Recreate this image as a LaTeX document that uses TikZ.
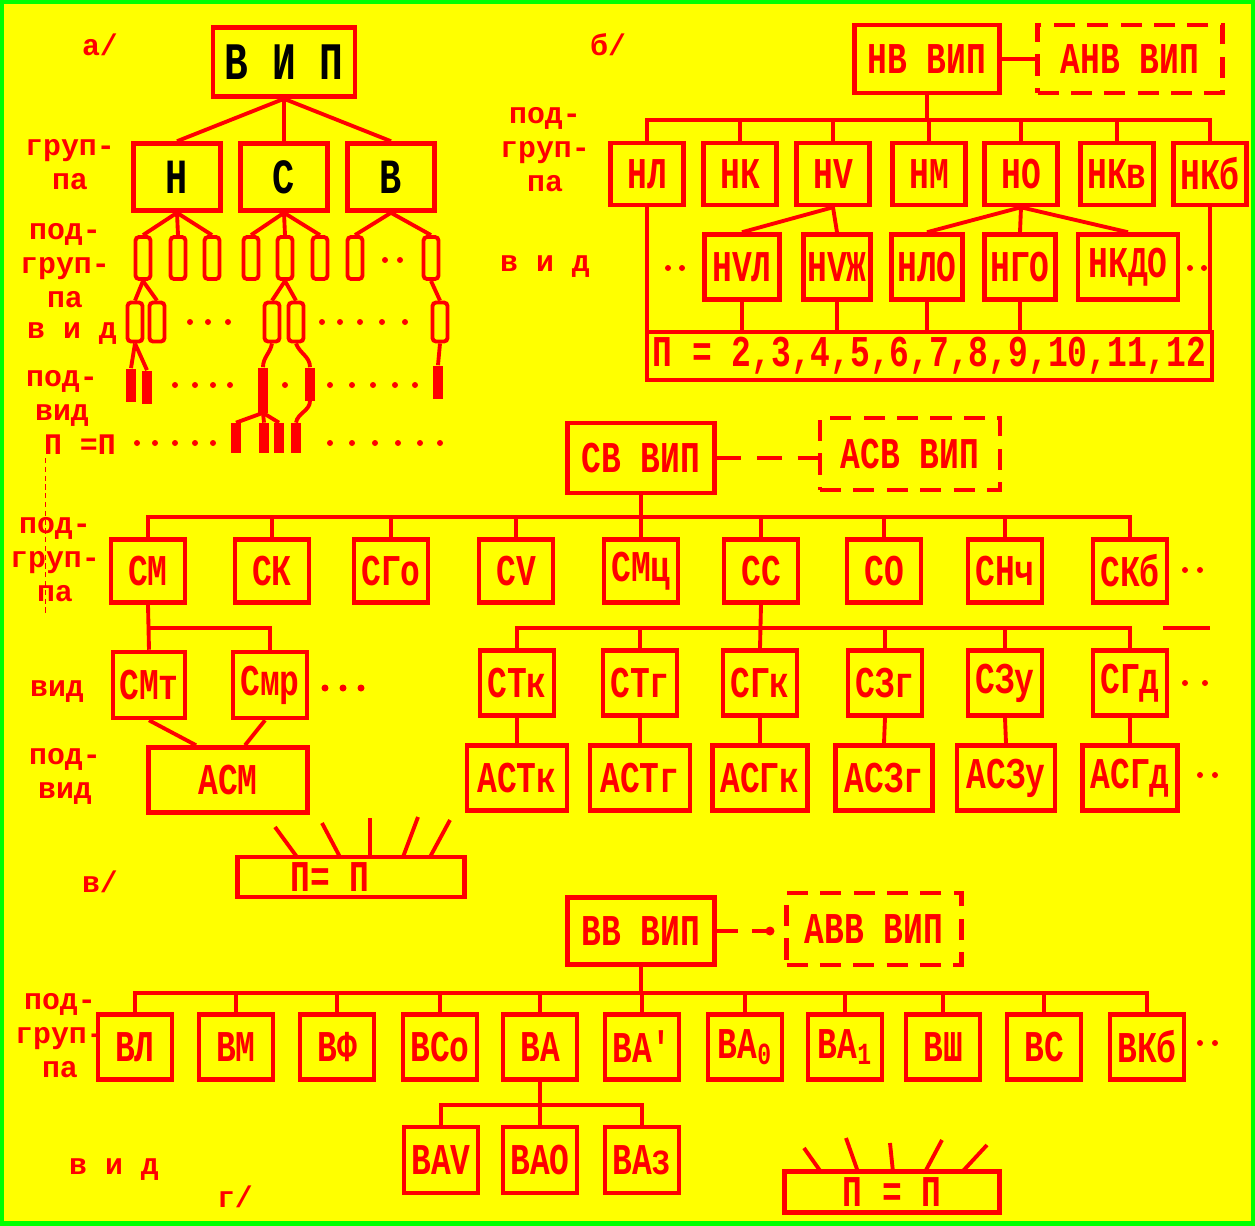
\documentclass[tikz,border=0pt]{standalone}
\usepackage{fontspec}
\setmainfont{Liberation Mono}
\newfontfamily\boxfam{Liberation Mono}[FakeStretch=0.75]
\usepackage{tikz}
\usetikzlibrary{positioning}
\definecolor{vred}{RGB}{255,0,0}
\definecolor{vyellow}{RGB}{255,255,0}
\definecolor{vgreen}{RGB}{0,255,0}
\newcommand{\boxfont}{\boxfam\fontsize{25}{26}\selectfont\bfseries}
\newcommand{\lblfont}{\fontsize{17}{19.3}\selectfont\bfseries}
\tikzset{
  box/.style={draw=vred, line width=2.6pt, text=vred, font=\boxfont, inner sep=0pt,
              minimum width=1.48cm, minimum height=1.3cm},
  dbox/.style={box, dash pattern=on 12pt off 7pt},
  cell/.style={draw=vred, line width=2.2pt, rounded corners=2pt, inner sep=0pt,
               minimum width=0.3cm, minimum height=0.84cm},
  rod/.style={fill=vred, inner sep=0pt, minimum width=0.2cm, minimum height=0.66cm},
  lbl/.style={text=vred, font=\lblfont, align=center, inner sep=0pt},
  ln/.style={draw=vred, line width=2.2pt},
}

\begin{document}
\begin{tikzpicture}[x=0.02cm, y=-0.02cm]
  \useasboundingbox (0,0) rectangle (1255,1225);
  \fill[vyellow] (0,0) rectangle (1255,1225);
  \draw[vgreen, line width=5pt] (0,0) rectangle (1255,1225);

  % a/ general scheme
  \node[lbl] (la) at (100,45) {а/};
  \node[box, text=black, minimum width=2.84cm, minimum height=1.38cm,
        font=\boxfam\fontsize{30}{30}\selectfont\bfseries] (vip) at (284,62) {В И П};
  \foreach \n/\x/\t in {gn/177/Н, gs/284/С, gv/391/В}
    \node[box, text=black, minimum width=1.74cm, minimum height=1.34cm,
          font=\boxfam\fontsize{28}{28}\selectfont\bfseries] (\n) at (\x,177) {\t};
  \foreach \n in {gn,gs,gv} \draw[ln] (vip.south) -- (\n.north);
  \foreach \n/\x in {c1/143,c2/178,c3/212,c4/251,c5/285,c6/320,c7/355,c8/431}
    \node[cell] (\n) at (\x,258) {};
  \foreach \g/\c in {gn/c1,gn/c2,gn/c3,gs/c4,gs/c5,gs/c6,gv/c7,gv/c8}
    \draw[ln] (\g.south) -- (\c.north);
  \foreach \n/\x in {v1/135,v2/157,v3/272,v4/296,v5/440}
    \node[cell, minimum height=0.78cm] (\n) at (\x,322) {};
  \foreach \c/\v in {c1/v1,c1/v2,c5/v3,c5/v4,c8/v5}
    \draw[ln] (\c.south) -- (\v.north);
  \foreach \n/\x/\y in {r1/131/385,r2/147/387,r4/310/384,r5/438/382}
    \node[rod] (\n) at (\x,\y) {};
  \node[rod, minimum height=0.9cm] (r3) at (263,390) {};
  \draw[ln] (v1.south) -- (r1.north);
  \draw[ln] (v1.south) -- (r2.north);
  \draw[ln] (v5.south) -- (r5.north);
  \draw[ln] (v3.south) to[out=-100,in=90] (r3.north);
  \draw[ln] (v4.south) to[out=-70,in=90] (r4.north);
  \foreach \n/\x in {p1/236,p2/264,p3/279,p4/296}
    \node[rod, minimum height=0.6cm] (\n) at (\x,438) {};
  \foreach \p in {p1,p2,p3} \draw[ln] (r3.south) -- (\p.north);
  \draw[ln] (r4.south) to[out=-90,in=80] (p4.north);
  \foreach \x in {385,400} \fill[vred] (\x,260) circle (0.06cm);
  \foreach \x in {190,208,228,322,340,360,382,405} \fill[vred] (\x,322) circle (0.06cm);
  \foreach \x in {175,195,213,230,285,330,352,373,395,415} \fill[vred] (\x,385) circle (0.06cm);
  \foreach \x in {137,155,175,195,213,330,352,375,398,420,440} \fill[vred] (\x,443) circle (0.06cm);
  \draw[vred, densely dashed, line width=0.5pt] (45,458) -- (45,613);
  \node[lbl] (ag) at (70,165) {груп-\\па};
  \node[lbl] (asg) at (65,266) {под-\\груп-\\па};
  \node[lbl] (av) at (72,334) {в и д};
  \node[lbl] (apv) at (62,398) {под-\\вид};
  \node[lbl] (ann) at (80,445) {П =П};

  % б/ low frequency
  \node[lbl] (lb) at (608,45) {б/};
  \node[box, minimum width=2.9cm, minimum height=1.36cm] (nv) at (927,59) {НВ ВИП};
  \node[dbox, minimum width=3.7cm, minimum height=1.36cm] (anv) at (1130,59) {АНВ ВИП};
  \draw[ln] (nv) -- (anv);
  \foreach \n/\x/\t in {nl/647/НЛ, nk/740/НК, nu/833/НV, nm/929/НМ, no/1021/НО, nkv/1117/НКв, nkb/1210/НКб}
    \node[box, minimum width=1.46cm, minimum height=1.24cm] (\n) at (\x,174) {\t};
  \coordinate (nbus) at (927,120);
  \draw[ln] (nv.south) -- (nbus);
  \draw[ln] (nl.north) |- (nbus) -| (nkb.north);
  \foreach \n in {nk,nu,nm,no,nkv} \draw[ln] (\n.north) -- (\n.north |- nbus);
  \foreach \n/\x/\w/\t in {nul/742/1.5/НVЛ, nuzh/837/1.34/НVЖ, nlo/927/1.42/НЛО, ngo/1020/1.42/НГО, nkdo/1128/2.0/НКДО}
    \node[box, minimum width=\w cm, minimum height=1.3cm] (\n) at (\x,267) {\t};
  \foreach \n in {nul,nuzh} \draw[ln] (nu.south) -- (\n.north);
  \foreach \n in {nlo,ngo,nkdo} \draw[ln] (no.south) -- (\n.north);
  \node[box, minimum width=11.3cm, minimum height=0.96cm] (nn) at (929.5,356) {П = 2,3,4,5,6,7,8,9,10,11,12};
  \foreach \n in {nl,nkb,nul,nuzh,nlo,ngo} \draw[ln] (\n.south) -- (\n.south |- nn.north);
  \foreach \x in {668,682,1190,1204} \fill[vred] (\x,268) circle (0.06cm);
  \node[lbl] (bsg) at (545,150) {под-\\груп-\\па};
  \node[lbl] (bv) at (545,267) {в и д};

  % в/ middle frequency
  \node[box, minimum width=2.94cm, minimum height=1.4cm] (sv) at (641,458) {СВ ВИП};
  \node[dbox, minimum width=3.6cm, minimum height=1.44cm] (asv) at (910,454) {АСВ ВИП};
  \draw[ln, dash pattern=on 14pt off 9pt] (sv.east) -- (sv.east -| asv.west);
  \foreach \n/\x/\t in {sm/148/СМ, sk/272/СК, sgo/391/СГо, su/516/СV, smc/641/СМц, ss/761/СС, so/884/СО, snch/1005/СНч, skb/1130/СКб}
    \node[box, minimum height=1.26cm] (\n) at (\x,571) {\t};
  \coordinate (sbus) at (641,517);
  \draw[ln] (sv.south) -- (sbus);
  \draw[ln] (sm.north) |- (sbus) -| (skb.north);
  \foreach \n in {sk,sgo,su,smc,ss,so,snch} \draw[ln] (\n.north) -- (\n.north |- sbus);
  \foreach \x in {1185,1200} \fill[vred] (\x,570) circle (0.06cm);
  \node[box, minimum width=1.44cm, minimum height=1.32cm] (smt) at (149,685) {СМт};
  \node[box, minimum height=1.32cm] (smr) at (270,685) {Смр};
  \coordinate (smbus) at (149,628);
  \draw[ln] (sm.south) -- (smt.north);
  \draw[ln] (smbus) -| (smr.north);
  \foreach \x in {325,343,361} \fill[vred] (\x,688) circle (0.07cm);
  \node[box, minimum width=3.18cm, minimum height=1.3cm] (asm) at (228,780) {АСМ};
  \draw[ln] (smt.south) -- ([xshift=-0.64cm]asm.north);
  \draw[ln] ([xshift=-0.1cm]smr.south) -- ([xshift=0.34cm]asm.north);
  \foreach \n/\x/\t in {stk/517/СТк, stg/640/СТг, sgk/760/СГк, szg/885/СЗг, szu/1005/СЗу, sgd/1130/СГд}
    \node[box] (\n) at (\x,683) {\t};
  \coordinate (ssbus) at (761,628);
  \draw[ln] (ss.south) -- (sgk.north);
  \draw[ln] (stk.north) |- (ssbus) -| (sgd.north);
  \foreach \n in {stg,szg,szu} \draw[ln] (\n.north) -- (\n.north |- ssbus);
  \coordinate (ssdash) at (1163,628);
  \coordinate (ssend) at (1210,628);
  \draw[ln] (ssdash) -- (ssend);
  \foreach \x in {1185,1205} \fill[vred] (\x,683) circle (0.06cm);
  \foreach \n/\x/\w/\t in {astk/517/2.0/АСТк, astg/640/2.0/АСТг, asgk/760/1.9/АСГк, aszg/884/1.94/АСЗг, aszu/1006/1.96/АСЗу, asgd/1130/1.9/АСГд}
    \node[box, minimum width=\w cm] (\n) at (\x,778) {\t};
  \foreach \a/\b in {stk/astk,stg/astg,sgk/asgk,szg/aszg,szu/aszu,sgd/asgd}
    \draw[ln] (\a.south) -- (\b.north);
  \foreach \x in {1200,1215} \fill[vred] (\x,775) circle (0.06cm);
  \node[box, minimum width=4.54cm, minimum height=0.8cm] (pp1) at (351,877) {П= П\hspace*{0.84cm}};
  \foreach \xa/\ya/\xb in {275/827/297, 322/823/340, 370/818/370, 418/817/403, 450/820/430}
    \draw[ln] (\xa,\ya) -- (\xb,857);
  \node[lbl] (lc) at (100,882) {в/};
  \node[lbl] (csg) at (55,560) {под-\\груп-\\па};
  \node[lbl] (cv) at (57,692) {вид};
  \node[lbl] (cpv) at (65,776) {под-\\вид};

  % г/ high frequency
  \node[box, minimum width=2.94cm, minimum height=1.34cm] (vv) at (641,931) {ВВ ВИП};
  \node[dbox, minimum width=3.5cm, minimum height=1.44cm] (avv) at (874,929) {АВВ ВИП};
  \draw[ln, dash pattern=on 12pt off 8pt] (vv.east) -- (vv.east -| avv.west);
  \fill[vred] (770,931) circle (0.09cm);
  \foreach \n/\x/\t in {vl/135/ВЛ, vm/236/ВМ, vf/337/ВФ, vso/440/ВСо, va/540/ВА, vap/642/ВА', vazero/745/ВА\textsubscript{0}, vaone/845/ВА\textsubscript{1}, vsh/943/ВШ, vs/1044/ВС, vkb/1147/ВКб}
    \node[box] (\n) at (\x,1047) {\t};
  \coordinate (vbus) at (641,993);
  \draw[ln] (vv.south) -- (vbus);
  \draw[ln] (vl.north) |- (vbus) -| (vkb.north);
  \foreach \n in {vm,vf,vso,va,vap,vazero,vaone,vsh,vs} \draw[ln] (\n.north) -- (\n.north |- vbus);
  \foreach \x in {1200,1215} \fill[vred] (\x,1043) circle (0.06cm);
  \foreach \n/\x/\t in {vav/441/ВАV, vao/540/ВАО, vaz/642/ВАз}
    \node[box, minimum height=1.32cm] (\n) at (\x,1160) {\t};
  \coordinate (vabus) at (540,1105);
  \draw[ln] (va.south) -- (vao.north);
  \draw[ln] (vav.north) |- (vabus) -| (vaz.north);
  \node[box, minimum width=4.3cm, minimum height=0.82cm] (pp2) at (892,1192) {П = П};
  \foreach \xa/\ya/\xb in {804/1148/821, 846/1138/858, 890/1143/893, 942/1140/925, 987/1145/962}
    \draw[ln] (\xa,\ya) -- (\xb,1172);
  \node[lbl] (dsg) at (60,1036) {под-\\груп-\\па};
  \node[lbl] (dv) at (114,1170) {в и д};
  \node[lbl] (ld) at (235,1197) {г/};
\end{tikzpicture}
\end{document}
